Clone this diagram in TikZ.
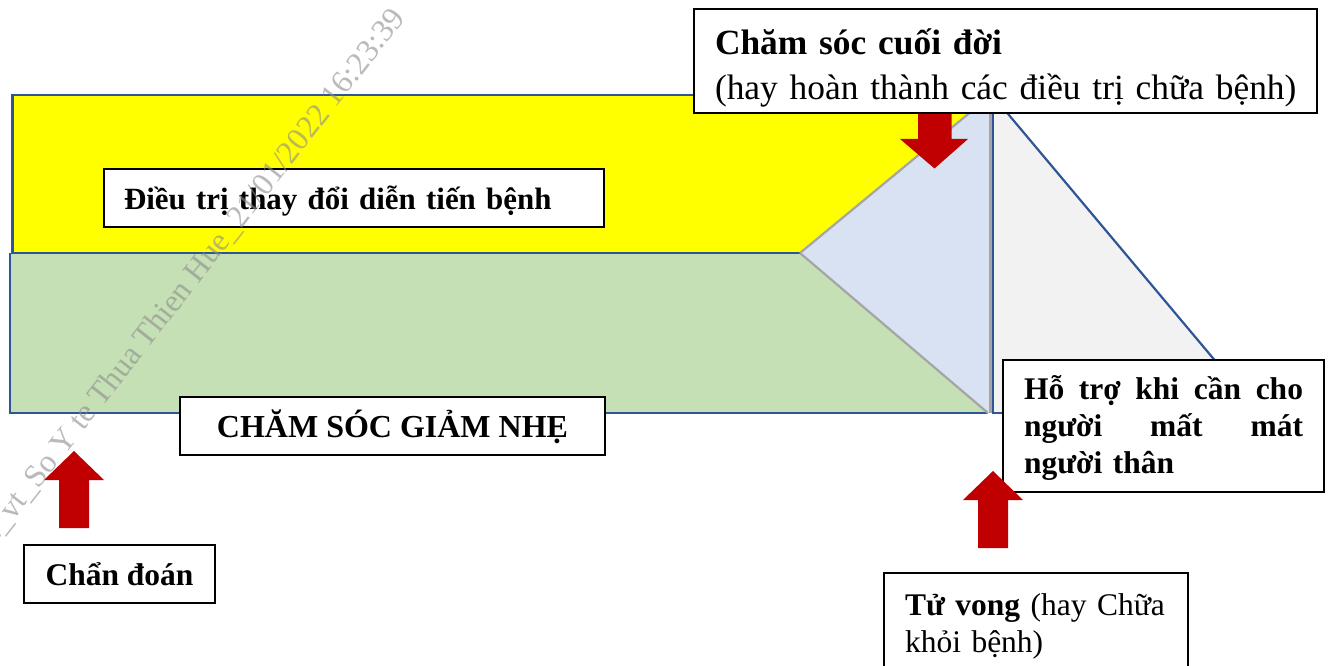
\documentclass[tikz,border=0pt]{standalone}
\usepackage{fontspec}
\setmainfont{Liberation Serif}
\definecolor{edgeblue}{HTML}{2F5597}
\definecolor{edgegrey}{HTML}{A5A5A5}
\definecolor{fillyellow}{HTML}{FFFF00}
\definecolor{fillgreen}{HTML}{C5E0B4}
\definecolor{fillblue}{HTML}{D9E2F3}
\definecolor{fillgrey}{HTML}{F2F2F2}
\definecolor{arrowred}{HTML}{C00000}
\tikzset{
  blueedge/.style={draw=edgeblue,line width=2.2pt},
  greyedge/.style={draw=edgegrey,line width=2.2pt},
  redarrow/.style={fill=arrowred,draw=none},
  labelbox/.style={draw=black,line width=1.9pt,fill=white,inner xsep=21pt,inner ysep=0pt,outer sep=0pt,anchor=center,font=\fontsize{31.5}{37}\selectfont},
  singleline/.style={text height=22pt,text depth=0pt},
  wmark/.style={text=black!45,opacity=.6,rotate=52,anchor=east,font=\fontsize{32}{32}\selectfont,inner sep=0pt}
}
\begin{document}
\begin{tikzpicture}[x=1pt,y=-1pt]
\useasboundingbox (0,0) rectangle (1328,666);
\fill[white] (0,0) rectangle (1328,666);
% bands
\fill[fillyellow] (12,95) -- (990,95) -- (990,100) -- (800,253) -- (12,253) -- cycle;
\fill[fillgreen] (10,253) -- (800,253) -- (988,413) -- (10,413) -- cycle;
\fill[fillblue] (800,253) -- (990,96) -- (990,413) -- (988,413) -- cycle;
\fill[fillgrey] (993,96) -- (1259,413) -- (993,413) -- cycle;
\draw[blueedge] (12,95) -- (990,95);
\draw[blueedge,line width=3pt] (12.5,94) -- (12.5,253);
\draw[blueedge] (11,253) -- (800,253);
\draw[blueedge] (10,253) -- (10,413) -- (988,413);
\draw[greyedge] (800,253) -- (990,96);
\draw[greyedge] (800,253) -- (988,413);
\draw[greyedge,line width=3pt] (990,96) -- (990,413);
\draw[blueedge] (993,96) -- (993,413) -- (1259,413) ;
\draw[blueedge] (993,96) -- (1259,413);
% arrows
\fill[redarrow] (918,100) -- (951.5,100) -- (951.5,139) -- (968,139) -- (934.5,168.5) -- (900,139) -- (918,139) -- cycle;
% boxes
\node[labelbox,singleline,minimum width=500pt,minimum height=58pt,text width=458pt,align=left,font=\fontsize{30.9}{37}\selectfont\bfseries] (dieutri) at (354,198) {\hspace*{-1pt}Điều trị thay đổi diễn tiến bệnh};
\node[labelbox,singleline,minimum width=425pt,minimum height=58pt,align=center,font=\fontsize{32}{37}\selectfont\bfseries,inner xsep=0pt] (giamnhe) at (392.5,426) {CHĂM SÓC GIẢM NHẸ};
\node[labelbox,singleline,minimum width=191pt,minimum height=58pt,align=center,font=\fontsize{31.5}{37}\selectfont\bfseries,inner xsep=0pt] (chandoan) at (119.5,574) {Chẩn đoán};
\node[labelbox,minimum width=623pt,minimum height=104pt,text width=590pt,inner xsep=16.5pt,align=left,font=\fontsize{35.4}{45}\selectfont] (cuoidoi) at (1005.5,61) {\rule{0pt}{39pt}\hspace*{4.5pt}\textbf{Chăm sóc cuối đời}\\\hspace*{4.5pt}(hay hoàn thành các điều trị chữa bệnh)};
\node[labelbox,minimum width=321pt,minimum height=132pt,text width=279pt,align=left,font=\fontsize{31.5}{37}\selectfont\bfseries] (hotro) at (1163.5,426) {\rule{0pt}{27pt}Hỗ\hfill trợ\hfill khi\hfill cần\hfill cho\\người\hfill mất\hfill mát\\người thân};
\node[labelbox,minimum width=304pt,minimum height=106pt,text width=262pt,align=left] (tuvong) at (1036,626) {\textbf{Tử vong} (hay Chữa\\khỏi bệnh)};
\fill[redarrow] (59,528) -- (89,528) -- (89,480) -- (104,480) -- (74,451) -- (44,480) -- (59,480) -- cycle;
\fill[redarrow] (978,548) -- (1008,548) -- (1008,500) -- (1023,500) -- (993,471) -- (963,500) -- (978,500) -- cycle;
% watermark
\node[wmark] (mark) at (399,13) {e\_vt\_So Y te Thua Thien Hue\_21/01/2022 16:23:39};
\end{tikzpicture}
\end{document}
